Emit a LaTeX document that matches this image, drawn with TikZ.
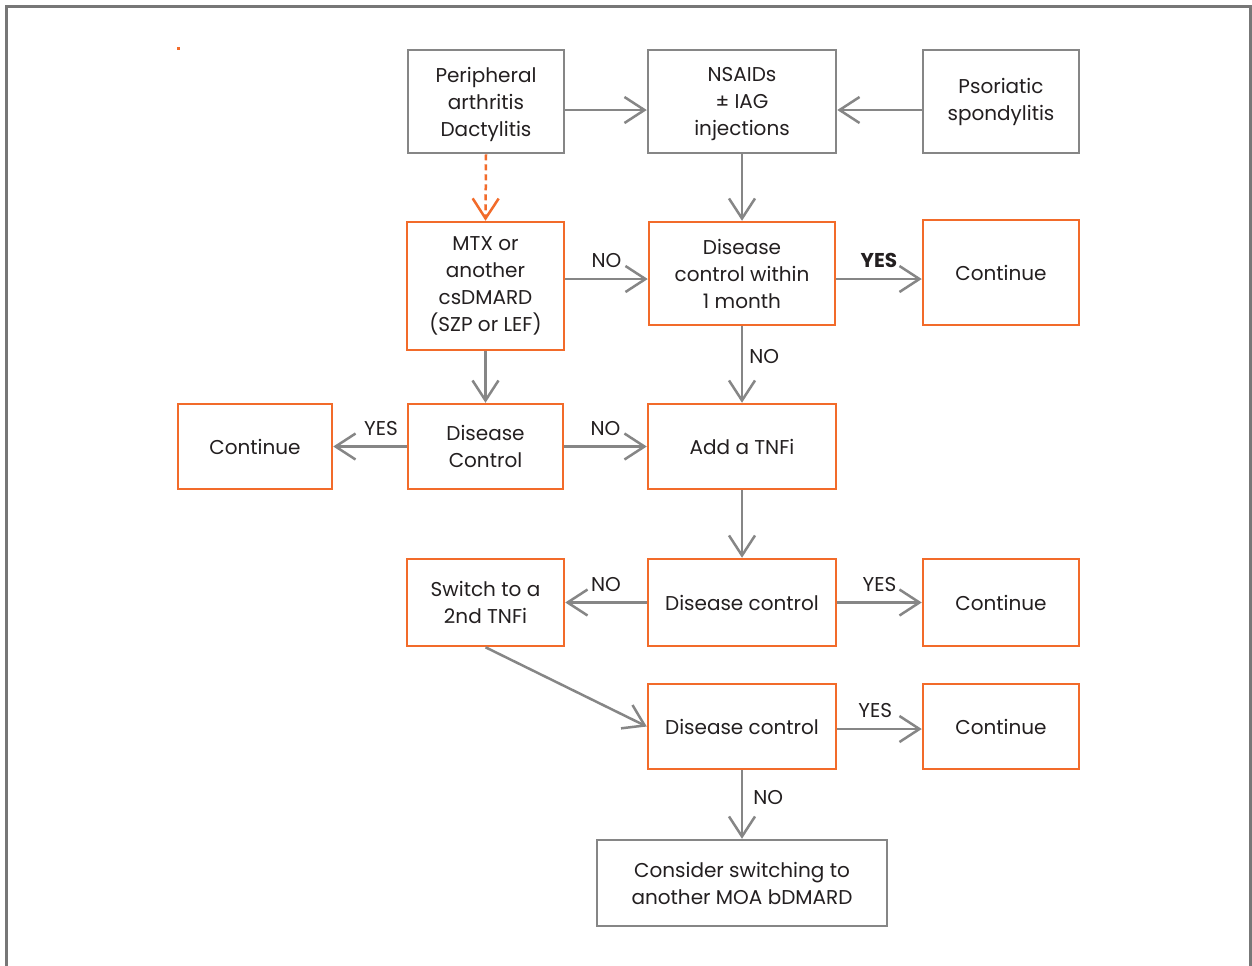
\documentclass[tikz,border=0pt]{standalone}
\usepackage{fontspec}
\setmainfont{Poppins}
\usetikzlibrary{arrows.meta}
\definecolor{gline}{HTML}{868686}
\definecolor{orng}{HTML}{F26B2A}
\definecolor{txt}{HTML}{231F20}
\definecolor{frame}{HTML}{777777}
\tikzset{
  box/.style={draw=gline, line width=1.25pt, fill=white, align=center, text=txt,
    font=\fontsize{10}{13.5}\selectfont, inner sep=0pt},
  obox/.style={box, draw=orng},
  arr/.style={draw=gline, line width=1.25pt, -{Straight Barb[length=10pt,width=13pt,line width=1.25pt]}},
  oarr/.style={draw=orng, line width=1.25pt, dash pattern=on 3pt off 2pt, -{Straight Barb[length=10pt,width=13pt,line width=1.25pt]}},
  lbl/.style={text=txt, font=\fontsize{10}{11}\selectfont, inner sep=0pt}
}
\begin{document}
\begin{tikzpicture}[x=0.5pt,y=-0.5pt]
\useasboundingbox (0,0) rectangle (1252,965);
\fill[white] (0,0) rectangle (1252,965);
\draw[frame, line width=1.5pt] (6,968) -- (6,6) -- (1250,6) -- (1250,968);
\fill[orng] (177,47) rectangle (180,50);

\node[box, minimum width=78pt, minimum height=51.5pt] (pa) at (486,101.5) {\raisebox{-1.5pt}[\height][\depth]{\parbox{70pt}{\centering Peripheral\\arthritis\\Dactylitis}}};
\node[box, minimum width=94pt, minimum height=51.5pt] (ns) at (742,101.5) {\raisebox{-1.5pt}[\height][\depth]{\parbox{86pt}{\centering NSAIDs\\± IAG\\injections}}};
\node[box, minimum width=78pt, minimum height=51.5pt] (ps) at (1001,101.5) {Psoriatic\\spondylitis};
\node[obox, minimum width=78.5pt, minimum height=64pt] (mtx) at (485.5,286) {MTX or\\another\\csDMARD\\(SZP or LEF)};
\node[obox, minimum width=93pt, minimum height=51.5pt] (dc1) at (742,273.5) {Disease\\control within\\1 month};
\node[obox, minimum width=78pt, minimum height=52.5pt] (c1) at (1001,272.5) {Continue};
\node[obox, minimum width=77pt, minimum height=42.5pt] (c2) at (255,446.5) {Continue};
\node[obox, minimum width=77.5pt, minimum height=42.5pt] (dc) at (485.5,446.5) {Disease\\Control};
\node[obox, minimum width=94pt, minimum height=42.5pt] (tnf) at (742,446.5) {Add a TNFi};
\node[obox, minimum width=78.5pt, minimum height=43.5pt] (sw) at (485.5,602.5) {Switch to a\\2nd TNFi};
\node[obox, minimum width=94pt, minimum height=43.5pt] (dc2) at (742,602.5) {Disease control};
\node[obox, minimum width=78pt, minimum height=43.5pt] (c3) at (1001,602.5) {Continue};
\node[obox, minimum width=94pt, minimum height=42.5pt] (dc3) at (742,726.5) {Disease control};
\node[obox, minimum width=78pt, minimum height=42.5pt] (c4) at (1001,726.5) {Continue};
\node[box, minimum width=145pt, minimum height=43pt] (cs) at (742,883) {Consider switching to\\another MOA bDMARD};

\draw[arr] ([yshift=-4.25pt]pa.east) -- ([yshift=-4.25pt]pa.east -| ns.west);
\draw[arr] ([yshift=-4.25pt]ps.west) -- ([yshift=-4.25pt]ps.west -| ns.east);
\draw[arr] (ns.south) -- (dc1.north);
\draw[oarr] (pa.south) -- (mtx.north);
\draw[arr] ([yshift=-2.75pt]dc1.west -| mtx.east) -- ([yshift=-2.75pt]dc1.west) node[lbl, midway, above=5pt] {NO};
\draw[arr] ([yshift=-2.75pt]dc1.east) -- ([yshift=-2.75pt]dc1.east -| c1.west) node[lbl, midway, above=5pt] {\textbf{YES}};
\draw[arr] (dc1.south) -- (tnf.north) node[lbl, pos=0.4, right=3pt] {NO};
\draw[arr] (mtx.south) -- (dc.north);
\draw[arr] (dc.west) -- (c2.east) node[lbl, pos=0.35, above=5pt] {YES};
\draw[arr] (dc.east) -- (tnf.west) node[lbl, midway, above=5pt] {NO};
\draw[arr] (tnf.south) -- (dc2.north);
\draw[arr] (dc2.west) -- (sw.east) node[lbl, midway, above=5pt] {NO};
\draw[arr] (dc2.east) -- (c3.west) node[lbl, midway, above=5pt] {YES};
\draw[arr] (sw.south) -- (dc3.west);
\draw[arr] ([yshift=-1.25pt]dc3.east) -- ([yshift=-1.25pt]dc3.east -| c4.west) node[lbl, pos=0.45, above=5pt] {YES};
\draw[arr] (dc3.south) -- (cs.north) node[lbl, pos=0.4, right=5pt] {NO};
\end{tikzpicture}
\end{document}
